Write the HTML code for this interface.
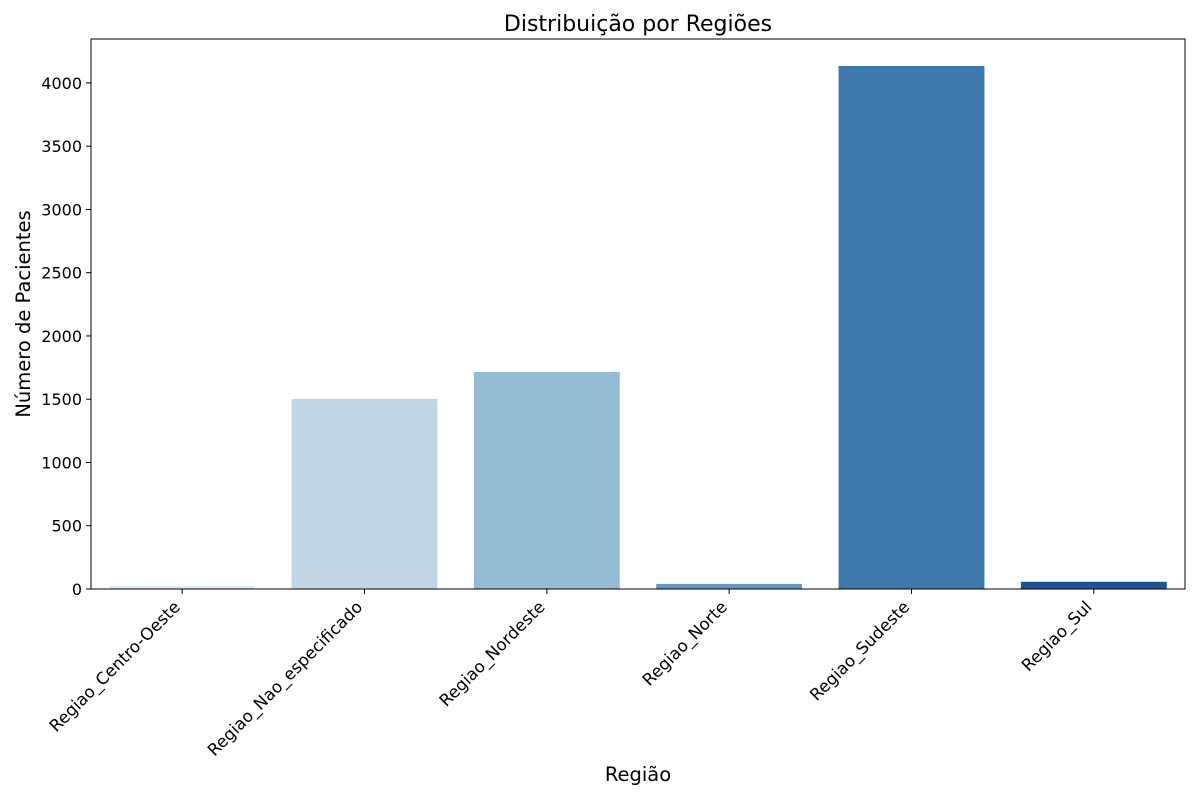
<!DOCTYPE html>
<html><head><meta charset="utf-8"><style>
body{margin:0;background:#fff;font-family:"DejaVu Sans","Liberation Sans",sans-serif;}
svg text{font-family:"DejaVu Sans","Liberation Sans",sans-serif;}
</style></head><body>
<svg id="chart" width="1200" height="800" xmlns="http://www.w3.org/2000/svg">
<text x="638" y="31" font-size="22" text-anchor="middle">Distribuição por Regiões</text>
<text x="638" y="781" font-size="19.5" text-anchor="middle">Região</text>
<text transform="translate(30,314) rotate(-90)" font-size="19.5" text-anchor="middle">Número de Pacientes</text>
<g id="bars"></g><g id="axes"></g>
</svg>
<script>
const categories=["Regiao_Centro-Oeste","Regiao_Nao_especificado","Regiao_Nordeste","Regiao_Norte","Regiao_Sudeste","Regiao_Sul"];
const values=[24,1502,1715,40,4134,57];
const colors=["#dde9f5","#c0d6e7","#94bcd5","#6199c4","#3d7aab","#1f5590"];
const yTicks=[0,500,1000,1500,2000,2500,3000,3500,4000];
const L=91,R=1185,T=39,B=589;
const ymax=4347;
const y=v=>B-(v/ymax)*(B-T);
const step=(R-L)/categories.length;
const x=i=>L+step*(i+0.5);
const NS="http://www.w3.org/2000/svg";
const bars=document.getElementById('bars'),axes=document.getElementById('axes');
function mk(t,a,p){const e=document.createElementNS(NS,t);for(const k in a)e.setAttribute(k,a[k]);p.appendChild(e);return e;}
categories.forEach((c,i)=>{
 const w=step*0.8;
 const r=mk('rect',{x:x(i)-w/2,y:y(values[i]),width:w,height:B-y(values[i]),fill:colors[i]},bars);
 
 
 mk('line',{x1:x(i),x2:x(i),y1:B,y2:B+5,stroke:'#000','stroke-width':1},axes);
 const t=mk('text',{transform:`translate(${x(i)-1},${B+19}) rotate(-45)`,'font-size':16.7,'text-anchor':'end'},axes);
 t.textContent=c;
 
 
});
yTicks.forEach(v=>{
 mk('line',{x1:L-5,x2:L,y1:y(v),y2:y(v),stroke:'#000','stroke-width':1},axes);
 const t=mk('text',{x:L-9,y:y(v)+6,'font-size':16,'text-anchor':'end'},axes);
 t.textContent=v;
 
 
});
const f=mk('rect',{x:L,y:T,width:R-L,height:B-T,fill:'none',stroke:'#000','stroke-width':1},axes);


</script>
</body></html>
